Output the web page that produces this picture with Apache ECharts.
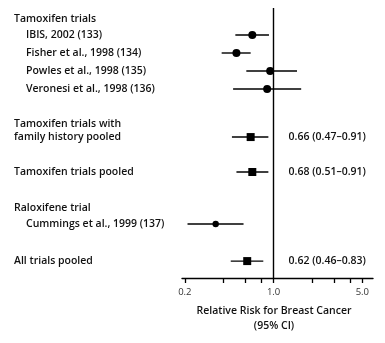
<!DOCTYPE html>
<html>
<head>
<meta charset="utf-8">
<script src="https://cdn.jsdelivr.net/npm/echarts@6/dist/echarts.min.js"></script>
<style>
html,body{margin:0;padding:0;background:#fff;}
#chart{width:385px;height:343px;}
</style>
</head>
<body>
<div id="chart"></div>
<script>
// ---- data ----
const rowLabels = ['Tamoxifen trials','IBIS, 2002 (133)','Fisher et al., 1998 (134)','Powles et al., 1998 (135)','Veronesi et al., 1998 (136)','Tamoxifen trials with','family history pooled','Tamoxifen trials pooled','Raloxifene trial','Cummings et al., 1999 (137)','All trials pooled'];
const rowKind = ['header','study','study','study','study','header','pooled','pooled','header','study','pooled'];
const relRisk = [null,0.68,0.51,0.94,0.89,null,0.66,0.68,null,0.35,0.62];
const ciLower = [null,0.50,0.39,0.61,0.48,null,0.47,0.51,null,0.21,0.46];
const ciUpper = [null,0.92,0.66,1.53,1.65,null,0.91,0.91,null,0.58,0.83];
const estimateText = ['','','','','','','0.66 (0.47\u20130.91)','0.68 (0.51\u20130.91)','','','0.62 (0.46\u20130.83)'];
const tickValues = [0.2,0.4,0.6,0.8,1,2,3,4,5];
const labelValues = [0.2,1,5];
const tickLabels = ['0.2','1.0','5.0'];
const axisTitle = 'Relative Risk for Breast Cancer\n(95% CI)';

// ---- layout (row positions in line units, indentation) ----
const rowPos = [0.61,1.5,2.5,3.5,4.5,6.45,7.17,9.11,11.11,12,14.06];
const indentPx = [14,26,26,26,26,14,14,14,14,26,14];

const FONT = '"Open Sans", sans-serif';
const TEXT_COLOR = '#111';
const FS = 10.5;
const FW = 600;

const textData = rowLabels.map((t,i)=>[1,rowPos[i],i]);
const ciData = [];
relRisk.forEach((v,i)=>{ if(v!=null) ciData.push([v,ciLower[i],ciUpper[i],rowPos[i],i]); });

const chart = echarts.init(document.getElementById('chart'),null,{renderer:'canvas'});
chart.setOption({
  animation:false,
  backgroundColor:'#fff',
  grid:{left:182,right:12,top:8,bottom:65,containLabel:false},
  xAxis:{
    type:'log',logBase:10,min:0.19,max:6.07,position:'bottom',
    axisLine:{show:true,onZero:false,lineStyle:{color:'#000',width:1.4}},
    axisTick:{show:true,inside:false,length:5,customValues:tickValues,lineStyle:{color:'#000',width:1.3}},
    axisLabel:{show:true,customValues:labelValues,margin:9,fontFamily:FONT,fontSize:9.5,color:'#333',
      formatter:(v)=>{const k=labelValues.findIndex(x=>Math.abs(x-v)<1e-6);return k>=0?tickLabels[k]:'';}},
    splitLine:{show:false},minorTick:{show:false},
    name:axisTitle,nameLocation:'middle',nameGap:26,
    nameTextStyle:{fontFamily:FONT,fontSize:FS,fontWeight:FW,color:TEXT_COLOR,lineHeight:15,padding:[0,7,0,0]}
  },
  yAxis:{type:'value',inverse:true,min:0,max:15,show:false},
  series:[
    {
      type:'custom',name:'labels',clip:false,
      data:textData,
      renderItem:(params,api)=>{
        const i=api.value(2);
        const p=api.coord([api.value(0),api.value(1)]);
        const children=[{type:'text',style:{x:indentPx[i],y:p[1],text:rowLabels[i],textAlign:'left',textVerticalAlign:'middle',
          fontFamily:FONT,fontSize:FS,fontWeight:FW,fill:TEXT_COLOR}}];
        if(estimateText[i]){
          children.push({type:'text',style:{x:p[0]+15,y:p[1],text:estimateText[i],textAlign:'left',textVerticalAlign:'middle',
            fontFamily:FONT,fontSize:FS,fontWeight:FW,fill:TEXT_COLOR}});
        }
        return {type:'group',children};
      },
      markLine:{silent:true,symbol:['none','none'],label:{show:false},
        lineStyle:{color:'#000',width:1.4,type:'solid'},data:[{xAxis:1}]}
    },
    {
      type:'custom',name:'ci',clip:false,
      data:ciData,
      renderItem:(params,api)=>{
        const i=api.value(4);
        const y=api.value(3);
        const c=api.coord([api.value(0),y]);
        const l=api.coord([api.value(1),y]);
        const h=api.coord([api.value(2),y]);
        const children=[{type:'line',shape:{x1:l[0],y1:l[1],x2:h[0],y2:h[1]},style:{stroke:'#000',lineWidth:1.4}}];
        if(rowKind[i]==='pooled'){
          children.push({type:'rect',shape:{x:c[0]-4,y:c[1]-4,width:8,height:8},style:{fill:'#000'}});
        } else {
          const r = i===9?3.2:4;
          children.push({type:'circle',shape:{cx:c[0],cy:c[1],r:r},style:{fill:'#000'}});
        }
        return {type:'group',children};
      }
    }
  ]
});
</script>
</body>
</html>
